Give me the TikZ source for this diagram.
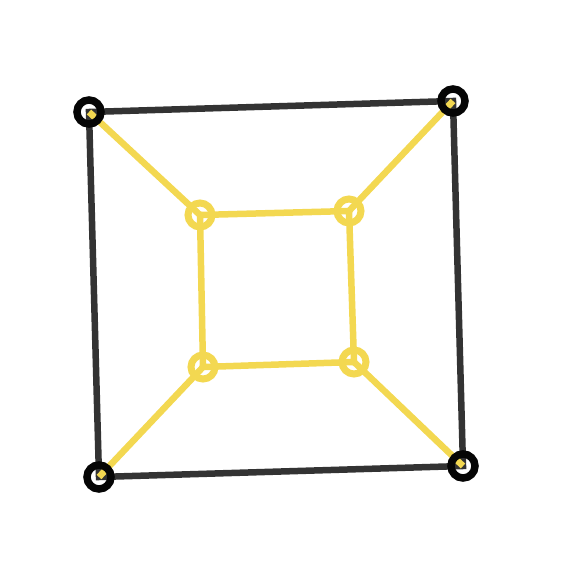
\documentclass[tikz,border=0pt]{standalone}
\usepackage{tikz}
\usetikzlibrary{backgrounds}
\definecolor{CubeInk}{HTML}{333333}
\definecolor{CubeRing}{HTML}{050505}
\definecolor{CubeGold}{HTML}{F3D851}
\tikzset{
  outerdot/.style={circle, draw=CubeRing, line width=7.5pt, minimum size=24pt, inner sep=0pt},
  innerdot/.style={circle, draw=CubeGold, line width=7pt, minimum size=24pt, inner sep=0pt},
  outeredge/.style={draw=CubeInk, line width=6.5pt},
  inneredge/.style={draw=CubeGold, line width=6.5pt}
}
\begin{document}
\begin{tikzpicture}[x=1pt, y=-1pt]
\useasboundingbox (0,0) rectangle (580,572);
% outer square
\node[outerdot] (o1) at (89,112) {};
\node[outerdot] (o2) at (453,101) {};
\node[outerdot] (o3) at (463,466) {};
\node[outerdot] (o4) at (99,477) {};
% inner square
\node[innerdot] (i1) at (200,215) {};
\node[innerdot] (i2) at (349,211) {};
\node[innerdot] (i3) at (354,362) {};
\node[innerdot] (i4) at (203,367) {};
\begin{pgfonlayer}{background}
\draw[outeredge] (o1.center) -- (o2.center) -- (o3.center) -- (o4.center) -- cycle;
\draw[inneredge] (i1.center) -- (i2.center) -- (i3.center) -- (i4.center) -- cycle;
\foreach \k in {1,...,4}
  \draw[inneredge] (o\k.center) -- (i\k.center);
\end{pgfonlayer}
\end{tikzpicture}
\end{document}
